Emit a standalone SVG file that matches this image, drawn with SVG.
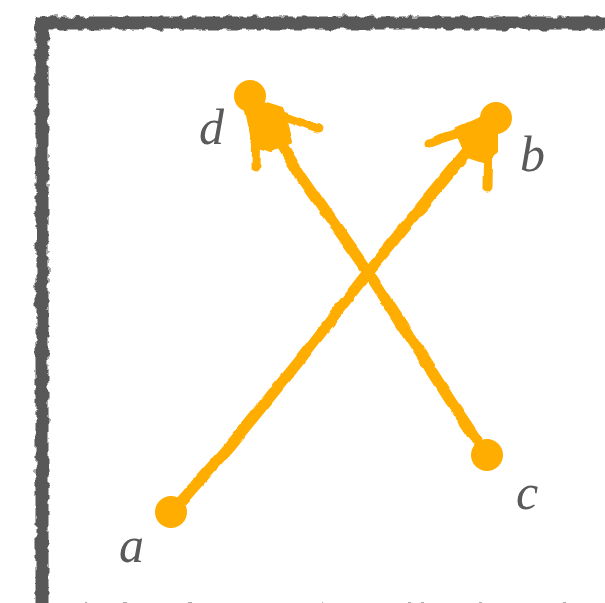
<svg xmlns="http://www.w3.org/2000/svg" width="605" height="603" viewBox="0 0 605 603">
  <defs>
    <filter id="rough" x="-5%" y="-5%" width="110%" height="110%">
      <feTurbulence type="fractalNoise" baseFrequency="0.12" numOctaves="2" seed="3" result="n"/>
      <feDisplacementMap in="SourceGraphic" in2="n" scale="7" xChannelSelector="R" yChannelSelector="G"/>
    </filter>
    <filter id="wobble" x="-5%" y="-5%" width="110%" height="110%">
      <feTurbulence type="fractalNoise" baseFrequency="0.05" numOctaves="2" seed="7" result="n"/>
      <feDisplacementMap in="SourceGraphic" in2="n" scale="5" xChannelSelector="R" yChannelSelector="G"/>
    </filter>
    <style>
      .frame { fill: none; stroke: #595959; stroke-width: 13; }
      .edge { fill: none; stroke: #ffad00; stroke-width: 11; stroke-linecap: round; stroke-linejoin: round; }
      .barb { fill: none; stroke: #ffad00; stroke-width: 9; stroke-linecap: round; stroke-linejoin: round; }
      .dot { fill: #ffad00; }
      .head { fill: #ffad00; stroke: #ffad00; stroke-width: 4; stroke-linejoin: round; }
      .lbl { font-family: "Liberation Serif", "DejaVu Serif", serif; font-style: italic; font-size: 50px; fill: #5a5a5a; }
    </style>
  </defs>
  <rect width="605" height="603" fill="#ffffff"/>
  <g id="frame" filter="url(#rough)">
    <rect class="frame" x="42" y="23" width="620" height="588"/>
  </g>
  <g id="connectors" filter="url(#wobble)">
    <g id="edge-a-b">
      <path class="edge" d="M172,512 L230,446 L300,360 L368,272 L430,196 L488,126"/>
      <path class="barb" d="M429,143 Q452,134 480,128"/>
      <path class="barb" d="M487,188 L488,140"/>
      <polygon class="head" points="456,130 496,112 496,150 486,162 468,156"/>
    </g>
    <g id="edge-c-d">
      <path class="edge" d="M487,455 L450,400 L408,334 L368,272 L300,175 L256,102"/>
      <path class="barb" d="M318,129 Q292,120 262,108"/>
      <path class="barb" d="M256,168 L257,122"/>
      <polygon class="head" points="244,98 282,110 290,142 272,150 254,144"/>
    </g>
  </g>
  <g id="node-a"><circle class="dot" cx="171" cy="512" r="16"/><text class="lbl" x="119" y="562">a</text></g>
  <g id="node-b"><circle class="dot" cx="496" cy="118" r="16"/><text class="lbl" x="520" y="171">b</text></g>
  <g id="node-c"><circle class="dot" cx="487" cy="455" r="16"/><text class="lbl" x="516" y="509">c</text></g>
  <g id="node-d"><circle class="dot" cx="250" cy="96" r="16"/><text class="lbl" x="199" y="144">d</text></g>
</svg>
